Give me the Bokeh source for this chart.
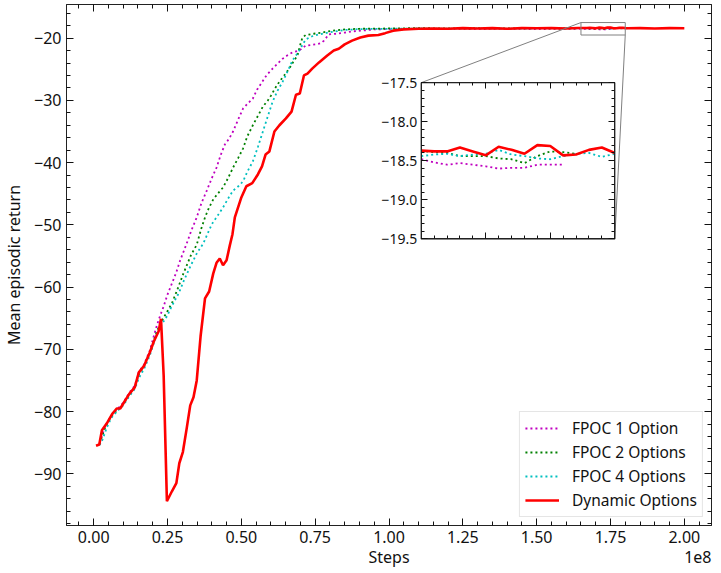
import numpy as np
from bokeh.plotting import figure
from bokeh.models import (Range1d, LinearAxis, SingleIntervalTicker, NumeralTickFormatter,
                          CustomJSTickFormatter, Legend, LegendItem, Title)
from bokeh.embed import file_html
from bokeh.resources import INLINE

# ---------------- data (steps in units of 1e8) ----------------
steps_fpoc1 = [0.020, 0.040, 0.060, 0.080, 0.100, 0.120, 0.140, 0.153, 0.170, 0.190,
               0.204, 0.215, 0.225, 0.237, 0.250, 0.265, 0.280, 0.293, 0.315, 0.330,
               0.349, 0.365, 0.383, 0.400, 0.416, 0.430, 0.444, 0.458, 0.472, 0.490,
               0.506, 0.520, 0.539, 0.553, 0.567, 0.585, 0.606, 0.625, 0.640, 0.655,
               0.673, 0.696, 0.718, 0.735, 0.752, 0.770, 0.780, 0.796, 0.820, 0.852,
               0.880, 0.908, 0.950, 1.000, 1.050, 1.100, 1.200, 1.300, 1.400, 1.500,
               1.600, 1.640, 1.650, 1.660, 1.670, 1.680, 1.690, 1.700, 1.710, 1.720,
               1.730, 1.740, 1.750, 1.760]
return_fpoc1 = [-85.0, -82.2, -80.6, -79.6, -78.6, -77.0, -75.8, -73.6, -72.5, -70.2,
                -67.8, -66.0, -64.6, -63.1, -61.2, -59.4, -57.6, -55.7, -53.0, -51.0,
                -48.8, -46.5, -44.5, -42.5, -40.8, -38.8, -37.1, -36.2, -35.0, -33.0,
                -31.3, -30.6, -29.7, -28.3, -27.3, -26.0, -24.9, -24.0, -23.3, -22.8,
                -22.3, -22.0, -21.2, -21.1, -21.0, -20.8, -20.4, -19.4, -19.3, -19.1,
                -18.9, -18.8, -18.6, -18.55, -18.5, -18.55, -18.5, -18.55, -18.5, -18.55,
                -18.5, -18.5, -18.48, -18.52, -18.55, -18.53, -18.55, -18.57, -18.60, -18.59,
                -18.59, -18.55, -18.55, -18.55]

steps_fpoc2 = [0.020, 0.040, 0.060, 0.080, 0.100, 0.120, 0.140, 0.153, 0.170, 0.190,
               0.204, 0.215, 0.230, 0.248, 0.265, 0.285, 0.304, 0.330, 0.349, 0.365,
               0.377, 0.390, 0.405, 0.420, 0.438, 0.455, 0.472, 0.490, 0.506, 0.520,
               0.539, 0.556, 0.573, 0.590, 0.601, 0.615, 0.629, 0.645, 0.662, 0.676,
               0.690, 0.700, 0.707, 0.718, 0.745, 0.774, 0.810, 0.852, 0.900, 1.000,
               1.100, 1.200, 1.300, 1.400, 1.500, 1.600, 1.640, 1.650, 1.660, 1.670,
               1.680, 1.690, 1.700, 1.710, 1.720, 1.730, 1.740, 1.750, 1.760, 1.770]
return_fpoc2 = [-85.2, -82.4, -80.8, -79.8, -78.8, -77.3, -76.0, -74.0, -72.8, -70.6,
                -68.5, -67.0, -65.5, -64.0, -62.6, -60.2, -57.8, -54.8, -53.2, -50.5,
                -48.8, -47.3, -45.9, -45.0, -44.0, -42.5, -40.8, -39.2, -37.7, -35.8,
                -34.0, -32.5, -31.0, -30.0, -29.2, -28.0, -27.0, -26.0, -24.9, -23.8,
                -22.8, -21.0, -19.9, -19.5, -19.3, -19.1, -18.8, -18.6, -18.5, -18.45,
                -18.4, -18.45, -18.4, -18.45, -18.4, -18.45, -18.4, -18.37, -18.39, -18.40,
                -18.44, -18.44, -18.44, -18.47, -18.48, -18.53, -18.44, -18.38, -18.39, -18.41]

steps_fpoc4 = [0.020, 0.030, 0.045, 0.060, 0.080, 0.100, 0.120, 0.140, 0.153, 0.170,
               0.190, 0.205, 0.215, 0.230, 0.248, 0.265, 0.288, 0.305, 0.327, 0.350,
               0.371, 0.385, 0.400, 0.420, 0.438, 0.455, 0.472, 0.490, 0.506, 0.520,
               0.539, 0.556, 0.573, 0.590, 0.606, 0.622, 0.640, 0.657, 0.673, 0.685,
               0.696, 0.708, 0.718, 0.740, 0.763, 0.785, 0.808, 0.850, 0.900, 1.000,
               1.100, 1.200, 1.300, 1.400, 1.500, 1.600, 1.640, 1.650, 1.660, 1.670,
               1.680, 1.690, 1.700, 1.710, 1.720, 1.730, 1.740, 1.750, 1.760, 1.770,
               1.780, 1.790, 1.800, 1.810]
return_fpoc4 = [-85.4, -84.5, -82.5, -81.0, -79.9, -79.0, -77.6, -76.3, -74.6, -73.2,
                -71.0, -68.8, -67.4, -66.0, -64.7, -63.0, -61.0, -59.0, -56.7, -54.5,
                -53.0, -51.5, -49.9, -48.5, -47.2, -45.8, -44.5, -43.8, -43.0, -41.5,
                -39.8, -37.5, -35.0, -32.5, -30.2, -28.5, -27.0, -25.3, -23.6, -22.8,
                -22.0, -21.0, -20.2, -19.7, -19.4, -19.2, -19.0, -18.7, -18.55, -18.5,
                -18.45, -18.5, -18.45, -18.5, -18.45, -18.45, -18.44, -18.44, -18.42, -18.41,
                -18.44, -18.42, -18.41, -18.36, -18.42, -18.44, -18.47, -18.48, -18.44, -18.41,
                -18.40, -18.45, -18.41, -18.42]

steps_dynamic = [0.008, 0.019, 0.028, 0.047, 0.064, 0.078, 0.090, 0.103, 0.120, 0.139,
                 0.153, 0.170, 0.190, 0.204, 0.220, 0.228, 0.237, 0.248, 0.265, 0.280,
                 0.290, 0.302, 0.315, 0.327, 0.338, 0.349, 0.362, 0.377, 0.391, 0.405,
                 0.416, 0.427, 0.438, 0.450, 0.461, 0.470, 0.478, 0.500, 0.517, 0.537,
                 0.556, 0.570, 0.582, 0.595, 0.612, 0.629, 0.651, 0.670, 0.685, 0.698,
                 0.712, 0.724, 0.740, 0.763, 0.791, 0.813, 0.830, 0.850, 0.875, 0.903,
                 0.930, 0.964, 0.987, 1.014, 1.050, 1.100, 1.150, 1.200, 1.250, 1.300,
                 1.350, 1.400, 1.450, 1.500, 1.550, 1.600, 1.640, 1.650, 1.660, 1.670,
                 1.680, 1.690, 1.700, 1.710, 1.720, 1.730, 1.740, 1.750, 1.760, 1.770,
                 1.780, 1.790, 1.800, 1.810, 1.850, 1.900, 1.950, 2.000]
return_dynamic = [-85.5, -85.3, -83.0, -81.7, -80.3, -79.5, -79.5, -78.5, -77.2, -76.1,
                  -73.7, -72.7, -70.5, -68.7, -67.1, -65.1, -74.2, -94.4, -92.8, -91.5,
                  -88.3, -86.5, -82.7, -79.0, -77.7, -75.0, -67.9, -61.8, -60.7, -57.8,
                  -56.1, -55.4, -56.5, -55.7, -53.3, -51.5, -48.8, -45.6, -43.8, -43.3,
                  -41.9, -40.6, -38.7, -38.2, -35.0, -34.0, -32.9, -31.8, -29.1, -28.9,
                  -26.0, -25.7, -24.9, -23.9, -22.8, -22.0, -21.7, -21.0, -20.4, -19.9,
                  -19.6, -19.5, -19.2, -18.8, -18.6, -18.5, -18.45, -18.5, -18.4, -18.45,
                  -18.4, -18.5, -18.4, -18.42, -18.4, -18.45, -18.38, -18.37, -18.38, -18.38,
                  -18.33, -18.38, -18.43, -18.32, -18.36, -18.41, -18.30, -18.31, -18.43, -18.42,
                  -18.36, -18.33, -18.40, -18.42, -18.4, -18.45, -18.4, -18.42]

series_labels = ["FPOC 1 Option", "FPOC 2 Options", "FPOC 4 Options", "Dynamic Options"]
x_tick_step = 0.25
y_tick_step = 10
inset_x_tick_step = 0.05
inset_y_tick_step = 0.5

# ---------------- layout / style constants ----------------
FONT = "Noto Sans"
X_LIM = (-0.092, 2.092)
Y_LIM = (-98.3, -14.6)
INSET_XLIM = (1.65, 1.80)
INSET_YLIM = (-19.5, -17.5)
INSET_BOX = (0.55, 0.55, 0.30, 0.30)   # left, bottom, width, height in axes fraction
FRAME_W, FRAME_H = 645, 521

p = figure(frame_width=FRAME_W, frame_height=FRAME_H,
           x_range=Range1d(*X_LIM), y_range=Range1d(*Y_LIM),
           output_backend="svg", toolbar_location=None,
           min_border_left=60, min_border_right=6, min_border_top=4, min_border_bottom=46,
           background_fill_color="white", border_fill_color="white",
           outline_line_color="#222222", outline_line_width=1)
p.grid.visible = False

# inset coordinate system mapped onto the whole frame
dx = INSET_XLIM[1] - INSET_XLIM[0]
dy = INSET_YLIM[1] - INSET_YLIM[0]
ix0 = INSET_XLIM[0] - INSET_BOX[0] * dx / INSET_BOX[2]
iy0 = INSET_YLIM[0] - INSET_BOX[1] * dy / INSET_BOX[3]
p.extra_x_ranges = {"ix": Range1d(ix0, ix0 + dx / INSET_BOX[2])}
p.extra_y_ranges = {"iy": Range1d(iy0, iy0 + dy / INSET_BOX[3])}

styles = [
    dict(color="#bf00bf", line_width=1.8, line_dash="2 3"),
    dict(color="#008000", line_width=1.8, line_dash="2 3"),
    dict(color="#00bfbf", line_width=1.8, line_dash="2 3"),
    dict(color="#ff0000", line_width=2.6, line_dash="solid"),
]
all_x = [steps_fpoc1, steps_fpoc2, steps_fpoc4, steps_dynamic]
all_y = [return_fpoc1, return_fpoc2, return_fpoc4, return_dynamic]

renderers = []
for xs, ys, st in zip(all_x, all_y, styles):
    r = p.line(xs, ys, line_color=st["color"], line_width=st["line_width"], line_dash=st["line_dash"])
    renderers.append(r)

# marked region on the main axes + connectors (mark_inset loc1=2, loc2=4)
p.quad(left=[INSET_XLIM[0]], right=[INSET_XLIM[1]], bottom=[INSET_YLIM[0]], top=[INSET_YLIM[1]],
       fill_alpha=0, line_color="#808080", line_width=1)
W = X_LIM[1] - X_LIM[0]
H = Y_LIM[1] - Y_LIM[0]
ul = (X_LIM[0] + INSET_BOX[0] * W, Y_LIM[0] + (INSET_BOX[1] + INSET_BOX[3]) * H)
lr = (X_LIM[0] + (INSET_BOX[0] + INSET_BOX[2]) * W, Y_LIM[0] + INSET_BOX[1] * H)
p.segment(x0=[INSET_XLIM[0], INSET_XLIM[1]], y0=[INSET_YLIM[1], INSET_YLIM[0]],
          x1=[ul[0], lr[0]], y1=[ul[1], lr[1]], line_color="#808080", line_width=1)

# inset background and lines
p.quad(left=[INSET_XLIM[0]], right=[INSET_XLIM[1]], bottom=[INSET_YLIM[0]], top=[INSET_YLIM[1]],
       x_range_name="ix", y_range_name="iy", fill_color="white", line_color="#111111", line_width=1.2)
for xs, ys, st in zip(all_x, all_y, styles):
    xa = np.array(xs); ya = np.array(ys)
    m = (xa >= INSET_XLIM[0] - 1e-9) & (xa <= INSET_XLIM[1] + 1e-9)
    p.line(xa[m], ya[m], x_range_name="ix", y_range_name="iy", line_color=st["color"],
           line_width=st["line_width"], line_dash=st["line_dash"])

def style_ticks(ax, major=7, minor=4):
    ax.major_tick_in = major
    ax.major_tick_out = 0
    ax.minor_tick_in = minor
    ax.minor_tick_out = 0
    ax.major_tick_line_color = "#111111"
    ax.minor_tick_line_color = "#111111"
    ax.axis_line_color = "#222222"
    ax.major_label_text_font = FONT
    ax.major_label_text_color = "#111111"
    ax.axis_label_text_font = FONT
    ax.axis_label_text_font_style = "normal"
    ax.axis_label_text_color = "#111111"

minus_fmt0 = CustomJSTickFormatter(code="return tick.toFixed(0).replace('-', '\u2212');")
minus_fmt1 = CustomJSTickFormatter(code="return tick.toFixed(1).replace('-', '\u2212');")
blank_fmt = CustomJSTickFormatter(code="return '';")

xa_main = p.xaxis[0]
xa_main.ticker = SingleIntervalTicker(interval=x_tick_step, num_minor_ticks=5)
xa_main.formatter = NumeralTickFormatter(format="0.00")
xa_main.axis_label = "Steps"
style_ticks(xa_main)
xa_main.major_label_text_font_size = "16px"
xa_main.axis_label_text_font_size = "16px"
xa_main.major_label_standoff = 5
xa_main.axis_label_standoff = 0

ya_main = p.yaxis[0]
ya_main.ticker = SingleIntervalTicker(interval=y_tick_step, num_minor_ticks=5)
ya_main.formatter = minus_fmt0
ya_main.axis_label = "Mean episodic return"
style_ticks(ya_main)
ya_main.major_label_text_font_size = "16px"
ya_main.axis_label_text_font_size = "16px"
ya_main.major_label_standoff = 5
ya_main.axis_label_standoff = 6

top_ax = LinearAxis(ticker=SingleIntervalTicker(interval=x_tick_step, num_minor_ticks=5),
                    formatter=blank_fmt, major_label_text_font_size="1px", major_label_standoff=0)
style_ticks(top_ax)
p.add_layout(top_ax, "above")
right_ax = LinearAxis(ticker=SingleIntervalTicker(interval=y_tick_step, num_minor_ticks=5),
                      formatter=blank_fmt, major_label_text_font_size="1px", major_label_standoff=0)
style_ticks(right_ax)
p.add_layout(right_ax, "right")

# inset axes
in_left = LinearAxis(x_range_name="ix", y_range_name="iy", fixed_location=INSET_XLIM[0], bounds=INSET_YLIM,
                     ticker=SingleIntervalTicker(interval=inset_y_tick_step, num_minor_ticks=5),
                     formatter=minus_fmt1)
style_ticks(in_left, 6, 3)
in_left.major_label_text_font_size = "14px"
in_left.major_label_standoff = 4
p.add_layout(in_left, "left")
for loc, side, rng, step in [(INSET_XLIM[1], "right", INSET_YLIM, inset_y_tick_step),
                             (INSET_YLIM[0], "below", INSET_XLIM, inset_x_tick_step),
                             (INSET_YLIM[1], "above", INSET_XLIM, inset_x_tick_step)]:
    ax = LinearAxis(x_range_name="ix", y_range_name="iy", fixed_location=loc, bounds=rng,
                    ticker=SingleIntervalTicker(interval=step, num_minor_ticks=5),
                    formatter=blank_fmt, major_label_text_font_size="1px")
    style_ticks(ax, 6, 3)
    p.add_layout(ax, side)

# offset text of the x axis (pulled up onto the axis-label row)
p.add_layout(Title(text="1e8", align="right", vertical_align="top", text_font=FONT,
                   text_font_size="16px", text_font_style="normal", text_color="#111111",
                   standoff=-40, offset=0), "below")

legend = Legend(items=[LegendItem(label=l, renderers=[r]) for l, r in zip(series_labels, renderers)],
                location="bottom_right", label_text_font=FONT, label_text_font_size="15.5px",
                label_text_color="#111111", glyph_width=34, glyph_height=18, label_height=18,
                spacing=2, padding=5, margin=8, label_standoff=13,
                border_line_color="#cccccc", border_line_width=1, background_fill_alpha=0.85)
p.add_layout(legend)

open("out.html", "w").write(file_html(p, INLINE))
